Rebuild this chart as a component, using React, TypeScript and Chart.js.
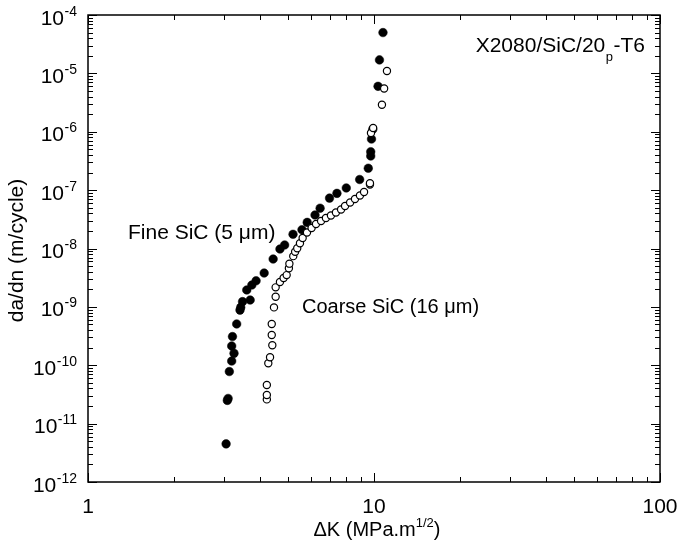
import React, { useEffect, useRef } from "react";
import { Chart, registerables } from "chart.js";

Chart.register(...registerables);

// ---- Data (ΔK in MPa·m^1/2, da/dn in m/cycle) ----
const fineDK = [
  3.04, 3.07, 3.09, 3.12, 3.18, 3.24, 3.18, 3.2, 3.31, 3.4, 3.42, 3.47, 3.59, 3.69,
  3.74, 3.87, 4.13, 4.44, 4.69, 4.87, 5.21, 5.6, 5.84, 6.22, 6.48, 6.99, 7.42, 8.0,
  8.91, 9.55, 9.74, 9.74, 9.8, 9.9, 10.33, 10.45, 10.75,
];
const fineRate = [
  4.5e-12, 2.5e-11, 2.7e-11, 7.8e-11, 1.18e-10, 1.6e-10, 2.14e-10, 3.1e-10, 5.1e-10,
  8.8e-10, 9.8e-10, 1.23e-9, 1.95e-9, 1.31e-9, 2.37e-9, 2.8e-9, 3.8e-9, 6.6e-9, 9.8e-9,
  1.15e-8, 1.75e-8, 2.1e-8, 2.8e-8, 3.75e-8, 4.9e-8, 7.3e-8, 8.8e-8, 1.09e-7, 1.52e-7,
  2.37e-7, 3.84e-7, 4.55e-7, 7.5e-7, 1.1e-6, 6.0e-6, 1.7e-5, 5.0e-5,
];

const coarseDK = [
  4.22, 4.22, 4.22, 4.27, 4.33, 4.41, 4.39, 4.39, 4.47, 4.53, 4.53, 4.69, 4.83, 4.95,
  5.04, 5.06, 5.22, 5.3, 5.39, 5.51, 5.63, 5.83, 6.05, 6.27, 6.53, 6.79, 7.07, 7.36,
  7.67, 7.92, 8.25, 8.58, 8.93, 9.23, 9.68, 9.68, 9.76, 9.93, 10.66, 10.85, 11.1,
];
const coarseRate = [
  2.6e-11, 3.1e-11, 4.6e-11, 1.08e-10, 1.37e-10, 2.2e-10, 3.3e-10, 5.1e-10, 9.8e-10,
  1.49e-9, 2.16e-9, 2.67e-9, 3.13e-9, 3.5e-9, 4.6e-9, 5.5e-9, 7.4e-9, 8.8e-9, 1.01e-8,
  1.23e-8, 1.51e-8, 1.88e-8, 2.25e-8, 2.63e-8, 2.96e-8, 3.33e-8, 3.67e-8, 4.14e-8,
  4.66e-8, 5.35e-8, 6.14e-8, 7.05e-8, 8.1e-8, 9.3e-8, 1.25e-7, 1.31e-7, 9.5e-7, 1.16e-6,
  2.9e-6, 5.5e-6, 1.1e-5,
];

const seriesNames = ["Fine SiC (5 \u03bcm)", "Coarse SiC (16 \u03bcm)"];
const xTickValues = [1, 10, 100];
const xTickLabels = ["1", "10", "100"];
const yTickExponents = [-12, -11, -10, -9, -8, -7, -6, -5, -4];
const xTitleMain = "\u0394K (MPa.m";
const xTitleSup = "1/2";
const yTitle = "da/dn (m/cycle)";
const alloyMain = "X2080/SiC/20";
const alloySub = "p";
const alloyTail = "-T6";

const FONT = "'Liberation Sans', Arial, Helvetica, sans-serif";

const decorPlugin = {
  id: "decor",
  afterDraw(chart: any) {
    const ctx: CanvasRenderingContext2D = chart.ctx;
    const { left, right, top, bottom } = chart.chartArea;
    const xs = chart.scales.x;
    const ys = chart.scales.y;
    ctx.save();
    ctx.strokeStyle = "#000";
    ctx.fillStyle = "#000";

    // frame
    ctx.lineWidth = 1.5;
    ctx.strokeRect(left, top, right - left, bottom - top);

    // x ticks (inward, bottom and top)
    ctx.lineWidth = 1;
    const xMin = xs.min, xMax = xs.max;
    for (let d = Math.floor(Math.log10(xMin)); d <= Math.ceil(Math.log10(xMax)); d++) {
      for (let k = 1; k <= 9; k++) {
        const v = k * Math.pow(10, d);
        if (v < xMin * 0.999 || v > xMax * 1.001) continue;
        const px = Math.round(xs.getPixelForValue(v)) + 0.5;
        const len = k === 1 ? 9 : 5;
        ctx.beginPath();
        ctx.moveTo(px, bottom);
        ctx.lineTo(px, bottom - len);
        ctx.moveTo(px, top);
        ctx.lineTo(px, top + len);
        ctx.stroke();
      }
    }
    // y ticks (inward, left and right)
    const yMin = ys.min, yMax = ys.max;
    for (let d = Math.round(Math.log10(yMin)); d <= Math.round(Math.log10(yMax)); d++) {
      for (let k = 1; k <= 9; k++) {
        const v = k * Math.pow(10, d);
        if (v < yMin * 0.999 || v > yMax * 1.001) continue;
        const py = Math.round(ys.getPixelForValue(v)) + 0.5;
        const len = k === 1 ? 9 : 5;
        ctx.beginPath();
        ctx.moveTo(left, py);
        ctx.lineTo(left + len, py);
        ctx.moveTo(right, py);
        ctx.lineTo(right - len, py);
        ctx.stroke();
      }
    }

    // x tick labels
    ctx.font = `21px ${FONT}`;
    ctx.textAlign = "center";
    ctx.textBaseline = "alphabetic";
    xTickValues.forEach((v, i) => {
      const px = xs.getPixelForValue(v);
      ctx.fillText(xTickLabels[i], px, bottom + 31);
    });

    // y tick labels 10^e
    yTickExponents.forEach((e) => {
      const py = ys.getPixelForValue(Math.pow(10, e));
      const expStr = String(e);
      ctx.font = `14px ${FONT}`;
      const we = ctx.measureText(expStr).width;
      const xr = left - 11;
      ctx.textAlign = "left";
      ctx.fillText(expStr, xr - we, py + 0.5);
      ctx.font = `21px ${FONT}`;
      ctx.textAlign = "right";
      ctx.fillText("10", xr - we - 0.5, py + 9.5);
    });

    // x title
    ctx.font = `20px ${FONT}`;
    const w1 = ctx.measureText(xTitleMain).width;
    ctx.font = `13px ${FONT}`;
    const w2 = ctx.measureText(xTitleSup).width;
    ctx.font = `20px ${FONT}`;
    const w3 = ctx.measureText(")").width;
    const cx = (left + right) / 2 + 3;
    let x0 = cx - (w1 + w2 + w3) / 2;
    const by = bottom + 54;
    ctx.textAlign = "left";
    ctx.fillText(xTitleMain, x0, by);
    ctx.font = `13px ${FONT}`;
    ctx.fillText(xTitleSup, x0 + w1, by - 9);
    ctx.font = `20px ${FONT}`;
    ctx.fillText(")", x0 + w1 + w2, by);

    // y title
    ctx.save();
    ctx.translate(23, (top + bottom) / 2 + 2);
    ctx.rotate(-Math.PI / 2);
    ctx.textAlign = "center";
    ctx.font = `21px ${FONT}`;
    ctx.fillText(yTitle, 0, 0);
    ctx.restore();

    // series annotations
    ctx.textAlign = "left";
    ctx.font = `21px ${FONT}`;
    ctx.fillText(seriesNames[0], 128, 239);
    ctx.font = `20px ${FONT}`;
    ctx.fillText(seriesNames[1], 302, 313);

    // alloy label (right aligned)
    ctx.font = `21px ${FONT}`;
    const a1 = ctx.measureText(alloyMain).width;
    const a3 = ctx.measureText(alloyTail).width;
    ctx.font = `13px ${FONT}`;
    const a2 = ctx.measureText(alloySub).width;
    const ar = right - 15;
    const ax = ar - (a1 + a2 + a3 + 1);
    ctx.font = `21px ${FONT}`;
    ctx.fillText(alloyMain, ax, 52);
    ctx.font = `13px ${FONT}`;
    ctx.fillText(alloySub, ax + a1 + 0.5, 61);
    ctx.font = `21px ${FONT}`;
    ctx.fillText(alloyTail, ax + a1 + a2 + 1, 52);

    ctx.restore();
  },
};

export default function App() {
  const ref = useRef<HTMLCanvasElement | null>(null);
  useEffect(() => {
    if (!ref.current) return;
    const fine = fineDK.map((x, i) => ({ x, y: fineRate[i] }));
    const coarse = coarseDK.map((x, i) => ({ x, y: coarseRate[i] }));
    const chart = new Chart(ref.current, {
      type: "scatter",
      data: {
        datasets: [
          {
            label: seriesNames[1],
            data: coarse,
            pointStyle: "circle",
            pointRadius: 3.6,
            pointBorderWidth: 1.2,
            backgroundColor: "#fff",
            borderColor: "#000",
            showLine: false,
          },
          {
            label: seriesNames[0],
            data: fine,
            pointStyle: "circle",
            pointRadius: 4.3,
            pointBorderWidth: 0.5,
            backgroundColor: "#000",
            borderColor: "#000",
            showLine: false,
          },
        ],
      },
      options: {
        animation: false,
        responsive: false,
        layout: { padding: { left: 88, top: 15, right: 17, bottom: 64 } },
        plugins: { legend: { display: false }, tooltip: { enabled: false } },
        scales: {
          x: { type: "logarithmic", min: 1, max: 100, display: false },
          y: { type: "logarithmic", min: 1e-12, max: 1e-4, display: false },
        },
      },
      plugins: [decorPlugin],
    });
    return () => chart.destroy();
  }, []);
  return (
    <div style={{ position: "absolute", left: 0, top: 0, width: 677, height: 546, background: "#fff" }}>
      <canvas ref={ref} width={677} height={546} />
    </div>
  );
}
